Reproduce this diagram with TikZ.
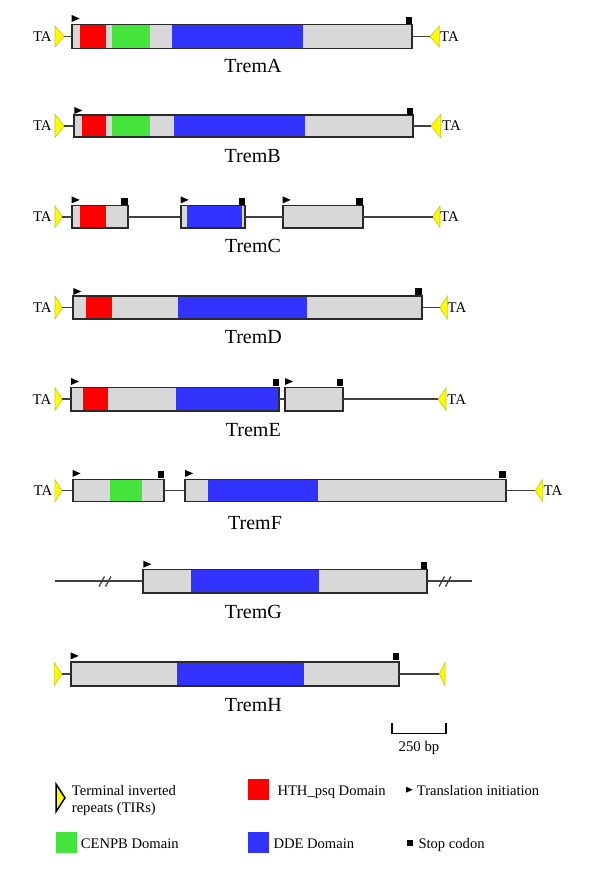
\documentclass[tikz,border=0pt]{standalone}
\usepackage{fontspec}
\setmainfont{Liberation Serif}
\definecolor{geneGray}{HTML}{D8D8D8}
\definecolor{boxLine}{HTML}{2A2A2A}
\definecolor{connLine}{HTML}{404040}
\definecolor{hthRed}{HTML}{FF0000}
\definecolor{cenGreen}{HTML}{44E43C}
\definecolor{ddeBlue}{HTML}{3333FF}
\definecolor{tirYellow}{HTML}{FFFF00}
\definecolor{tirEdge}{HTML}{C8C800}
% name, base x, tip x, y top, y bottom (points right)
\newcommand\TirRight[5]{\draw[tir] (#2,#4) -- (#3,{(#4+#5)/2}) -- (#2,#5) -- cycle;
  \coordinate (#1) at (#3,{(#4+#5)/2});}
% name, tip x, base x, y top, y bottom (points left)
\newcommand\TirLeft[5]{\draw[tir] (#3,#4) -- (#2,{(#4+#5)/2}) -- (#3,#5) -- cycle;
  \coordinate (#1) at (#2,{(#4+#5)/2});}
\newcommand\StartMk[2]{\fill (#1,{#2-0.3}) -- ({#1+8},{#2+3.2}) -- (#1,{#2+6.7}) -- cycle;}
\newcommand\StopMk[2]{\fill ({#1-6.8},#2) rectangle (#1,{#2+7});}
\newcommand\Gene[5]{\node[genebox, minimum width={#3-#2}, minimum height={#5-#4}] (#1) at ({(#2+#3)/2},{(#4+#5)/2}) {};}
\newcommand\Seg[5]{\fill[#1] (#2,{#4+0.9}) rectangle (#3,{#5-0.9});}
\begin{document}
\begin{tikzpicture}[x=1pt,y=-1pt,
  genebox/.style={draw=boxLine, line width=1.8pt, fill=geneGray, inner sep=0pt, outer sep=0pt},
  conn/.style={draw=connLine, line width=1.7pt},
  tir/.style={fill=tirYellow, draw=tirEdge, line width=0.6pt},
  tirleg/.style={fill=tirYellow, draw=black, line width=1.5pt},
  brk/.style={draw=connLine, line width=1.3pt},
  lbl/.style={font=\fontsize{20}{23}\selectfont, inner sep=0pt, anchor=base},
  ta/.style={font=\fontsize{14.8}{17}\selectfont, inner sep=0pt, anchor=base},
  leg/.style={font=\fontsize{14.6}{17.7}\selectfont, inner sep=0pt, anchor=base west}]
\useasboundingbox[fill=white] (0,0) rectangle (600,887);

% ---------- TremA ----------
\TirRight{Atl}{55}{64.3}{26}{47}
\TirLeft{Atr}{430}{439.3}{26}{47}
\Gene{A}{71.7}{411.7}{24.5}{48.5}
\draw[conn] (Atl) -- (A.west);
\draw[conn] (A.east) -- (Atr);
\Seg{hthRed}{80}{106.3}{24.5}{48.5}
\Seg{cenGreen}{111.7}{150}{24.5}{48.5}
\Seg{ddeBlue}{172.3}{302.7}{24.5}{48.5}
\StartMk{71.7}{15.3}
\StopMk{412.3}{16.7}
\node[ta] (Ata1) at (42.3,41.3) {TA};
\node[ta] (Ata2) at (449.5,41.3) {TA};
\node[lbl] (Alab) at (253,72.7) {TremA};

% ---------- TremB ----------
\TirRight{Btl}{55}{64.3}{114.5}{137.5}
\TirLeft{Btr}{431}{440.7}{114.5}{137.5}
\Gene{B}{74.3}{413.3}{115}{137}
\draw[conn] (Btl) -- (B.west);
\draw[conn] (B.east) -- (Btr);
\Seg{hthRed}{81.7}{106.3}{115}{137}
\Seg{cenGreen}{111.7}{150.3}{115}{137}
\Seg{ddeBlue}{174.3}{305}{115}{137}
\StartMk{74.3}{107.3}
\StopMk{413.3}{108.3}
\node[ta] (Bta1) at (42.3,130.8) {TA};
\node[ta] (Bta2) at (451.5,130.8) {TA};
\node[lbl] (Blab) at (252.7,162.7) {TremB};

% ---------- TremC ----------
\TirRight{Ctl}{55}{62.3}{206}{227.5}
\TirLeft{Ctr}{432.7}{440}{206}{227.5}
\Gene{C1}{71.7}{127.7}{205.5}{228}
\Gene{C2}{180.7}{245.3}{205.5}{228}
\Gene{C3}{282.7}{362.7}{205.5}{228}
\draw[conn] (Ctl) -- (C1.west);
\draw[conn] (C1.east) -- (C2.west);
\draw[conn] (C2.east) -- (C3.west);
\draw[conn] (C3.east) -- (Ctr);
\Seg{hthRed}{80}{105.7}{205.5}{228}
\Seg{ddeBlue}{187.3}{241.7}{205.5}{228}
\StartMk{71.7}{196.7}
\StartMk{180.7}{196.7}
\StartMk{282.7}{196.7}
\StopMk{127.7}{197.7}
\StopMk{245.3}{197.7}
\StopMk{362.7}{197.7}
\node[ta] (Cta1) at (42.3,221.5) {TA};
\node[ta] (Cta2) at (449.5,221.5) {TA};
\node[lbl] (Clab) at (253,252.6) {TremC};

% ---------- TremD ----------
\TirRight{Dtl}{55}{62.3}{296}{319}
\TirLeft{Dtr}{440}{447.3}{296}{319}
\Gene{D}{73.3}{421.7}{296}{319}
\draw[conn] (Dtl) -- (D.west);
\draw[conn] (D.east) -- (Dtr);
\Seg{hthRed}{85.7}{111.7}{296}{319}
\Seg{ddeBlue}{177.7}{307.3}{296}{319}
\StartMk{73.3}{288.3}
\StopMk{421.7}{288.3}
\node[ta] (Dta1) at (42.3,312.3) {TA};
\node[ta] (Dta2) at (457,312.3) {TA};
\node[lbl] (Dlab) at (253.3,343.3) {TremD};

% ---------- TremE ----------
\TirRight{Etl}{55}{62.3}{388}{410.5}
\TirLeft{Etr}{438.3}{446}{388}{410.5}
\Gene{E1}{71}{279.3}{387.5}{411}
\Gene{E2}{285}{343.3}{387.5}{411}
\draw[conn] (Etl) -- (E1.west);
\draw[conn] (E1.east) -- (E2.west);
\draw[conn] (E2.east) -- (Etr);
\Seg{hthRed}{83.3}{108.3}{387.5}{411}
\Seg{ddeBlue}{175.7}{278.4}{387.5}{411}
\StartMk{71}{378.3}
\StartMk{285}{378.3}
\StopMk{279.3}{379.3}
\StopMk{343.3}{379.3}
\node[ta] (Eta1) at (42,404) {TA};
\node[ta] (Eta2) at (456.7,404) {TA};
\node[lbl] (Elab) at (253.3,436.7) {TremE};

% ---------- TremF ----------
\TirRight{Ftl}{54.9}{61.8}{479.5}{501.5}
\TirLeft{Ftr}{535.4}{542.3}{479.5}{501.5}
\Gene{F1}{72.6}{164.3}{479.5}{501.5}
\Gene{F2}{185.1}{506}{479.5}{501.5}
\draw[conn] (Ftl) -- (F1.west);
\draw[conn] (F1.east) -- (F2.west);
\draw[conn] (F2.east) -- (Ftr);
\Seg{cenGreen}{109.6}{141.8}{479.5}{501.5}
\Seg{ddeBlue}{207.6}{318}{479.5}{501.5}
\StartMk{72.6}{470.2}
\StartMk{185.1}{470.2}
\StopMk{164.3}{470.9}
\StopMk{506}{470.9}
\node[ta] (Fta1) at (43,495.3) {TA};
\node[ta] (Fta2) at (553,495.3) {TA};
\node[lbl] (Flab) at (255,529) {TremF};

% ---------- TremG ----------
\coordinate (Gl) at (55,581.25);
\coordinate (Gr) at (471.7,581.25);
\Gene{G}{143.3}{427.3}{569.5}{593}
\draw[conn] (Gl) -- (G.west);
\draw[conn] (G.east) -- (Gr);
\Seg{ddeBlue}{190.7}{319}{569.5}{593}
\draw[brk] (99,586.5) -- (104.5,576.5);
\draw[brk] (105.5,586.5) -- (111,576.5);
\draw[brk] (439,586.5) -- (444.5,576.5);
\draw[brk] (445.5,586.5) -- (451,576.5);
\StartMk{143.3}{561}
\StopMk{427.3}{561.7}
\node[lbl] (Glab) at (253.3,618.3) {TremG};

% ---------- TremH ----------
\TirRight{Htl}{54.3}{61.7}{662.5}{685.5}
\TirLeft{Htr}{439.3}{445}{662.5}{685.5}
\Gene{H}{70.7}{399.3}{662}{686}
\draw[conn] (Htl) -- (H.west);
\draw[conn] (H.east) -- (Htr);
\Seg{ddeBlue}{176.7}{304.3}{662}{686}
\StartMk{70.7}{652.7}
\StopMk{399.3}{652.7}
\node[lbl] (Hlab) at (253.3,711) {TremH};

% ---------- scale bar ----------
\draw[line width=1.6pt, black] (391.7,723.3) -- (391.7,733.3) -- (446,733.3) -- (446,723.3);
\node[ta] (sbl) at (419,751.5) {250 bp};

% ---------- legend ----------
\draw[tirleg] (56,784) -- (65,797.8) -- (56,811.7) -- cycle;
\node[leg] (lg1a) at (71.7,795) {Terminal inverted};
\node[leg] (lg1b) at (71.7,812.5) {repeats (TIRs)};
\fill[hthRed] (248.3,779) rectangle (269.3,799.5);
\node[leg] (lg2) at (277.3,795) {HTH\_psq Domain};
\fill (406,786.7) -- (412.7,789.7) -- (406,792.7) -- cycle;
\node[leg] (lg3) at (416.7,795) {Translation initiation};
\fill[cenGreen] (56,832.3) rectangle (76.7,852.7);
\node[leg] (lg4) at (80.7,848) {CENPB Domain};
\fill[ddeBlue] (248.3,832.3) rectangle (269.3,852.7);
\node[leg] (lg5) at (273.3,848) {DDE Domain};
\fill (406.7,840) rectangle (412.7,846);
\node[leg] (lg6) at (418.3,848) {Stop codon};
\end{tikzpicture}
\end{document}
